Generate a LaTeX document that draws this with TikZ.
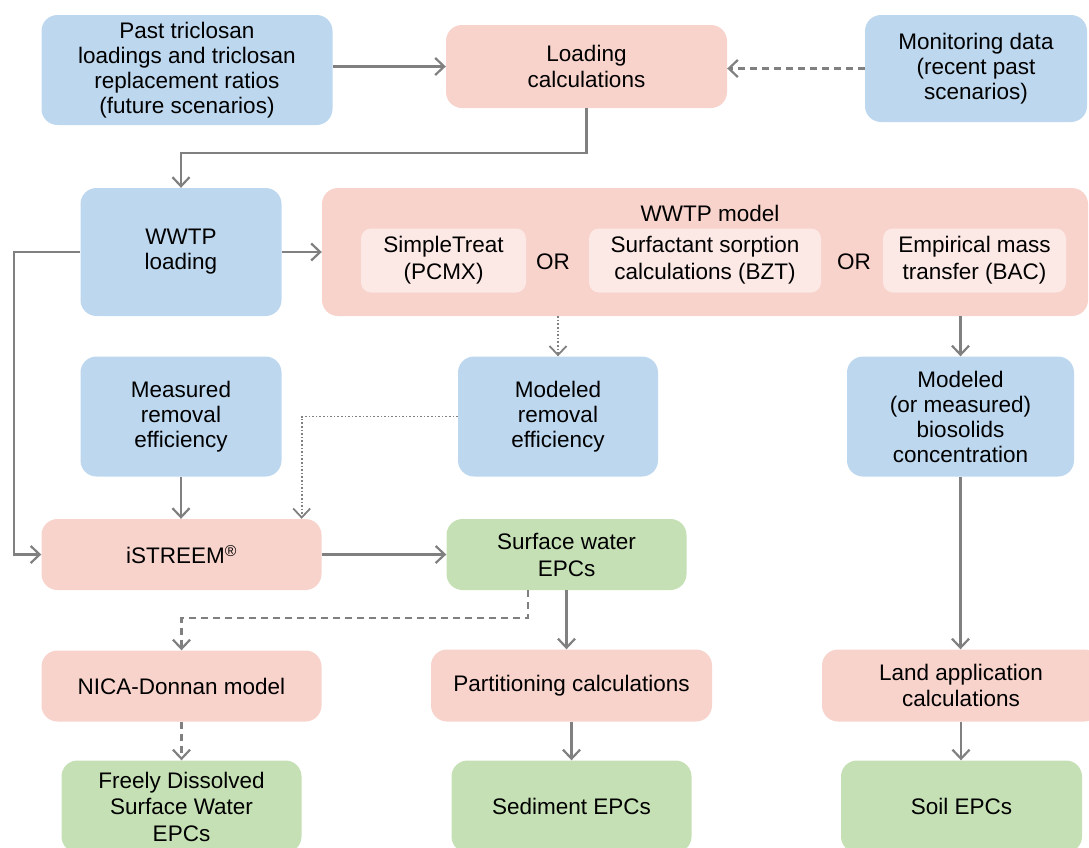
\documentclass[tikz,border=0pt]{standalone}
\usepackage{fontspec}
\setmainfont{Liberation Sans}
\usepackage{xcolor}
\usetikzlibrary{calc}
\usetikzlibrary{arrows.meta}
\usetikzlibrary{positioning}

\definecolor{boxblue}{HTML}{BDD7EE}
\definecolor{boxpink}{HTML}{F8D3CC}
\definecolor{optpink}{HTML}{FCE8E5}
\definecolor{boxgreen}{HTML}{C5E0B4}
\definecolor{linegray}{HTML}{808080}

\begin{document}
\begin{tikzpicture}[x=1pt,y=-1pt]
    \tikzstyle{every node}=[font=\fontsize{22.5}{25}\selectfont,align=center,inner sep=0pt,rounded corners=16pt]
    \tikzstyle{bnode}=[fill=boxblue]
    \tikzstyle{pnode}=[fill=boxpink]
    \tikzstyle{gnode}=[fill=boxgreen]
    \tikzstyle{onode}=[fill=optpink,rounded corners=10pt,minimum height=64pt,font=\fontsize{22.5}{27}\selectfont]
    \tikzstyle{link}=[draw=linegray,line width=2.2pt,-{Straight Barb[length=9pt,width=17pt]}]
    \tikzstyle{dashlink}=[link,line width=2.2pt,dash pattern=on 7pt off 5pt]
    \tikzstyle{dotlink}=[link,line width=1.8pt,dash pattern=on 1.6pt off 2pt]

    \useasboundingbox (0,0) rectangle (1089,847);

    % inputs and loading
    \node[bnode,minimum width=291pt,minimum height=110pt] (past) at (187,70) {Past triclosan\\loadings and triclosan\\replacement ratios\\(future scenarios)};
    \node[pnode,minimum width=281pt,minimum height=83pt,font=\fontsize{22.5}{26}\selectfont] (loadcalc) at (586.5,66.5) {Loading\\calculations};
    \node[bnode,minimum width=222pt,minimum height=107pt] (monitor) at (976,68.5) {Monitoring data\\(recent past\\scenarios)};

    % wwtp
    \node[bnode,minimum width=201pt,minimum height=128pt] (wwtpload) at (181,252) {WWTP\\loading};
    \node[pnode,minimum width=766pt,minimum height=128pt] (wwtpmodel) at (705,252) {};
    \node (wwtplabel) at (710,213) {WWTP model};
    \node[onode,minimum width=165pt] (simple) at (443.5,260.5) {SimpleTreat\\(PCMX)};
    \node (orone) at (553,262) {OR};
    \node[onode,minimum width=232pt] (surfact) at (705,260.5) {Surfactant sorption\\calculations (BZT)};
    \node (ortwo) at (854,262) {OR};
    \node[onode,minimum width=183pt] (empir) at (974.5,260.5) {Empirical mass\\transfer (BAC)};

    % removal
    \node[bnode,minimum width=201pt,minimum height=120pt] (measured) at (181,416.5) {Measured\\removal\\efficiency};
    \node[bnode,minimum width=200pt,minimum height=120pt] (modrem) at (558,416.5) {Modeled\\removal\\efficiency};
    \node[bnode,minimum width=227pt,minimum height=120pt] (biosol) at (960.5,416.5) {Modeled\\(or measured)\\biosolids\\concentration};

    \node[pnode,minimum width=280pt,minimum height=71pt] (istreem) at (181.5,554.5) {iSTREEM\textsuperscript{®}};
    \node[gnode,minimum width=240pt,minimum height=71pt,font=\fontsize{22.5}{27}\selectfont] (surface) at (566.5,554.5) {Surface water\\EPCs};

    \node[pnode,minimum width=280pt,minimum height=71pt] (nica) at (181.5,686) {NICA-Donnan model};
    \node[pnode,minimum width=281pt,minimum height=72pt] (partition) at (571.5,685.5) {Partitioning calculations};
    \node[pnode,minimum width=278pt,minimum height=72pt,font=\fontsize{22.5}{26}\selectfont] (landapp) at (961,685.5) {Land application\\calculations};

    % endpoints
    \node[gnode,minimum width=240pt,minimum height=92pt,font=\fontsize{22.5}{26.5}\selectfont] (freely) at (181.5,806.5) {Freely Dissolved\\Surface Water\\EPCs};
    \node[gnode,minimum width=240pt,minimum height=92pt] (sediment) at (571.5,806.5) {Sediment EPCs};
    \node[gnode,minimum width=241pt,minimum height=92pt] (soil) at (961.5,806.5) {Soil EPCs};

    \draw[link] (past.east |- loadcalc) -- (loadcalc.west);
    \draw[dashlink] (monitor.west) -- (monitor.west -| loadcalc.east);
    \draw[link] (loadcalc.south) -- ++(0,45) -| (wwtpload.north);
    \draw[link] (wwtpload.east) -- (wwtpload.east -| wwtpmodel.west);
    \draw[link] (wwtpload.west) -- ++(-66,0) |- (istreem.west);
    \draw[dotlink] (wwtpmodel.south -| modrem.north) -- (modrem.north);
    \draw[link] (wwtpmodel.south -| biosol.north) -- (biosol.north);
    \draw[link] (measured.south) -- (measured.south |- istreem.north);
    \draw[dotlink] (modrem.west) -| ([xshift=-20pt]istreem.north east);
    \draw[link] (istreem.east) -- (surface.west);
    \draw[dashlink] ([xshift=-38.5pt]surface.south) -- ++(0,28) -| (nica.north);
    \draw[link] (surface.south) -- (surface.south |- partition.north);
    \draw[link] (biosol.south) -- (biosol.south |- landapp.north);
    \draw[dashlink] (nica.south) -- (nica.south |- freely.north);
    \draw[link] (partition.south) -- (partition.south |- sediment.north);
    \draw[link] (landapp.south) -- (landapp.south |- soil.north);

\end{tikzpicture}
\end{document}
